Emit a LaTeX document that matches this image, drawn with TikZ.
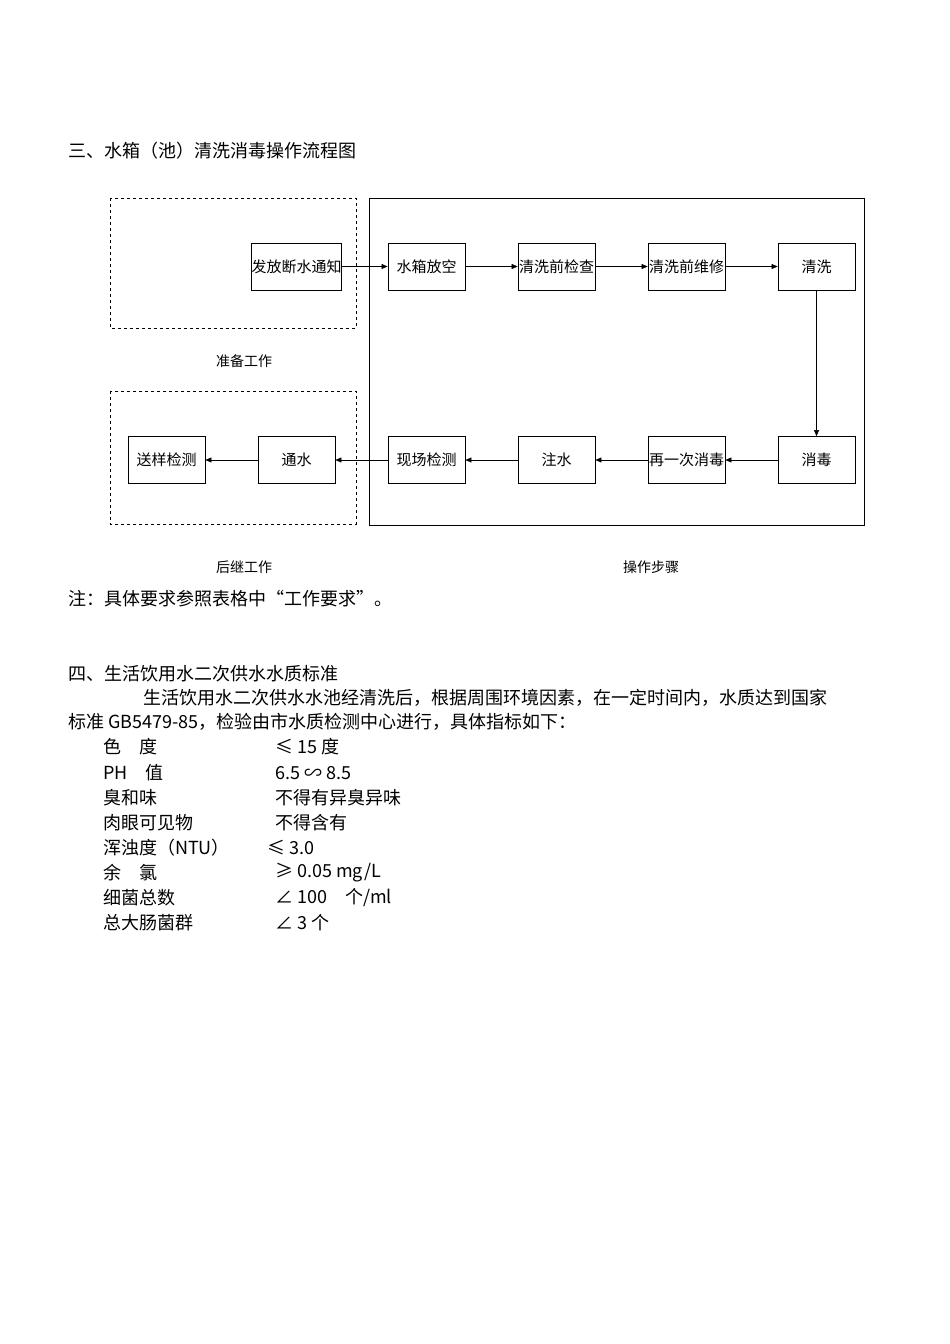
\documentclass[tikz,border=0pt]{standalone}
\usepackage{fontspec}
\setmainfont{Noto Sans CJK SC}
\usetikzlibrary{arrows.meta}
\begin{document}
\begin{tikzpicture}[x=1pt,y=-1pt,
  bx/.style={draw,thick,minimum width=77pt,minimum height=47pt,inner sep=0pt,font=\fontsize{15}{15}\selectfont},
  ar/.style={-{Triangle[length=6pt,width=5pt]},thin},
  lb/.style={font=\fontsize{14}{14}\selectfont},
  tx/.style={anchor=west,font=\fontsize{18}{18}\selectfont,inner sep=0pt}]
\fill[white] (0,0) rectangle (950,1344);
\useasboundingbox (0,0) rectangle (950,1344);
\node[tx] (t1) at (68,151) {三、水箱（池）清洗消毒操作流程图};
\draw[dashed] (110,198) rectangle (356,328);
\draw[dashed] (110,391) rectangle (356,524);
\draw (369,198) rectangle (864,525);
\node[bx] (a1) at (296.5,266.5) {发放断水通知};
\node[bx] (a2) at (426.5,266.5) {水箱放空};
\node[bx] (a3) at (556.5,266.5) {清洗前检查};
\node[bx] (a4) at (686.5,266.5) {清洗前维修};
\node[bx] (a5) at (816.5,266.5) {清洗};
\node[bx] (b1) at (816.5,460) {消毒};
\node[bx] (b2) at (686.5,460) {再一次消毒};
\node[bx] (b3) at (556.5,460) {注水};
\node[bx] (b4) at (426.5,460) {现场检测};
\node[bx] (b5) at (296.5,460) {通水};
\node[bx] (b6) at (166.5,460) {送样检测};
\draw[ar] (a1) -- (a2); \draw[ar] (a2) -- (a3); \draw[ar] (a3) -- (a4); \draw[ar] (a4) -- (a5);
\draw[ar] (a5) -- (b1);
\draw[ar] (b1) -- (b2); \draw[ar] (b2) -- (b3); \draw[ar] (b3) -- (b4); \draw[ar] (b4) -- (b5); \draw[ar] (b5) -- (b6);
\node[lb] (l1) at (244,361) {准备工作};
\node[lb] (l2) at (244,567) {后继工作};
\node[lb] (l3) at (651,567) {操作步骤};
\node[tx] (n1) at (68,599) {注：具体要求参照表格中“工作要求”。};
\node[tx] (s4) at (68,674) {四、生活饮用水二次供水水质标准};
\node[tx] (p1) at (143,698) {生活饮用水二次供水水池经清洗后，根据周围环境因素，在一定时间内，水质达到国家};
\node[tx] (p2) at (68,722) {标准 GB5479-85，检验由市水质检测中心进行，具体指标如下：};
\node[tx] at (103,747) {色\quad 度}; \node[tx] at (275,747) {≤ 15 度};
\node[tx] at (103,773) {PH\quad 值}; \node[tx] at (275,773) {6.5 ∽ 8.5};
\node[tx] at (103,798) {臭和味}; \node[tx] at (275,798) {不得有异臭异味};
\node[tx] at (103,823) {肉眼可见物}; \node[tx] at (275,823) {不得含有};
\node[tx] at (103,848) {浑浊度（NTU）}; \node[tx] at (267,848) {≤ 3.0};
\node[tx] at (103,873) {余\quad 氯}; \node[tx] at (275,873) {≥ 0.05 mg/L};
\node[tx] at (103,898) {细菌总数}; \node[tx] at (275,898) {∠ 100\quad 个/ml};
\node[tx] at (103,923) {总大肠菌群}; \node[tx] at (275,923) {∠ 3 个};
\end{tikzpicture}
\end{document}
